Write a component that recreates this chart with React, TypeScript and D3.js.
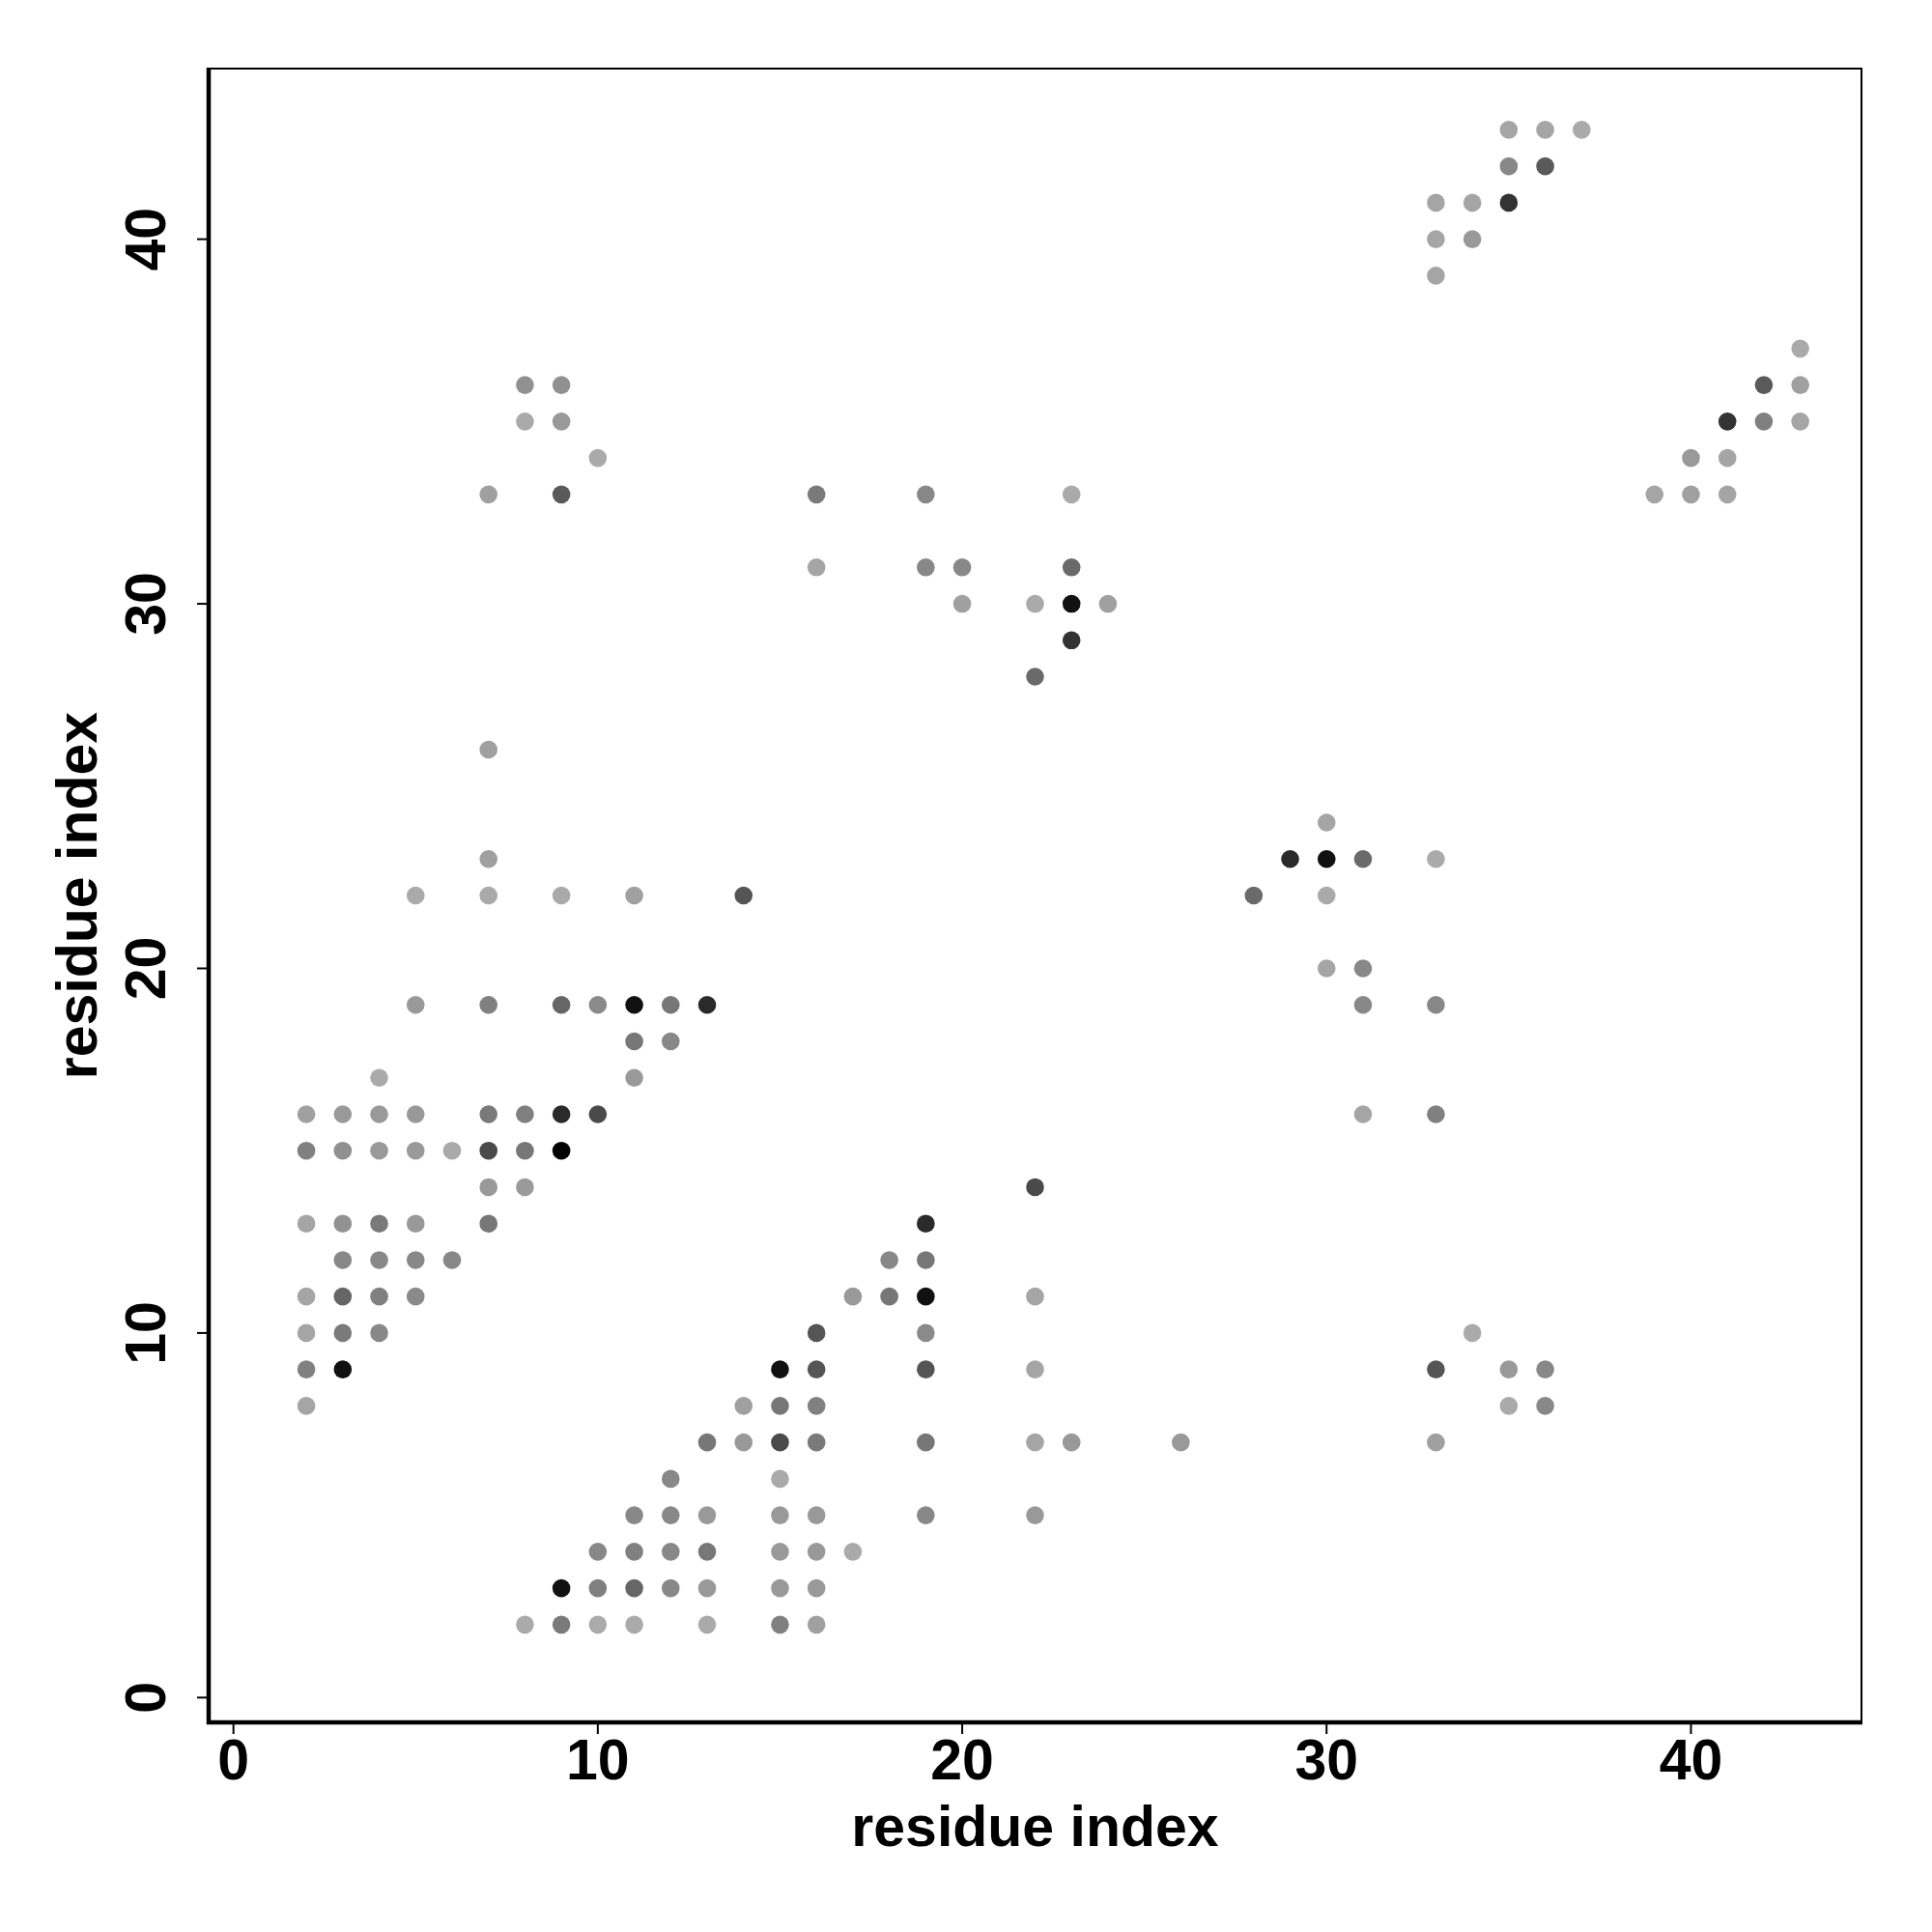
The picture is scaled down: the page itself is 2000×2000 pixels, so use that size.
import React from "react";
import * as d3 from "d3";

// contact map: residue i (x), residue j (y), grey shade (0 = black, 255 = white)
const resX = [
  35, 36, 37,
  35, 36,
  33, 34, 35,
  33, 34,
  33,
  43,
  8, 9, 42, 43,
  8, 9, 41, 42, 43,
  10, 40, 41,
  7, 9, 16, 19, 23, 39, 40, 41,
  16, 19, 20, 23,
  20, 22, 23, 24,
  23,
  22,
  7,
  30,
  7, 29, 30, 31, 33,
  5, 7, 9, 11, 14, 28, 30,
  30, 31,
  5, 7, 9, 10, 11, 12, 13, 31, 33,
  11, 12,
  4, 11,
  2, 3, 4, 5, 7, 8, 9, 10, 31, 33,
  2, 3, 4, 5, 6, 7, 8, 9,
  7, 8, 22,
  2, 3, 4, 5, 7, 19,
  3, 4, 5, 6, 18, 19,
  2, 3, 4, 5, 17, 18, 19, 22,
  2, 3, 4, 16, 19, 34,
  2, 3, 15, 16, 19, 22, 33, 35, 36,
  2, 14, 15, 16, 35, 36,
  13, 14, 15, 16, 19, 22, 23, 26, 33,
  12, 15,
  11, 12, 13, 15, 16, 19, 22,
  10, 11, 12, 13, 15, 16, 17,
  9, 10, 11, 12, 13, 15, 16,
  8, 9, 10, 11, 13, 15, 16,
];

const resY = [
  43, 43, 43,
  42, 42,
  41, 41, 41,
  40, 40,
  39,
  37,
  36, 36, 36, 36,
  35, 35, 35, 35, 35,
  34, 34, 34,
  33, 33, 33, 33, 33, 33, 33, 33,
  31, 31, 31, 31,
  30, 30, 30, 30,
  29,
  28,
  26,
  24,
  23, 23, 23, 23, 23,
  22, 22, 22, 22, 22, 22, 22,
  20, 20,
  19, 19, 19, 19, 19, 19, 19, 19, 19,
  18, 18,
  17, 17,
  16, 16, 16, 16, 16, 16, 16, 16, 16, 16,
  15, 15, 15, 15, 15, 15, 15, 15,
  14, 14, 14,
  13, 13, 13, 13, 13, 13,
  12, 12, 12, 12, 12, 12,
  11, 11, 11, 11, 11, 11, 11, 11,
  10, 10, 10, 10, 10, 10,
  9, 9, 9, 9, 9, 9, 9, 9, 9,
  8, 8, 8, 8, 8, 8,
  7, 7, 7, 7, 7, 7, 7, 7, 7,
  6, 6,
  5, 5, 5, 5, 5, 5, 5,
  4, 4, 4, 4, 4, 4, 4,
  3, 3, 3, 3, 3, 3, 3,
  2, 2, 2, 2, 2, 2, 2,
];

const shade = [
  0xa5, 0xa5, 0xaa,
  0x88, 0x5a,
  0xa5, 0xa5, 0x33,
  0xa5, 0x99,
  0xa5,
  0xaa,
  0x90, 0x90, 0x5a, 0xa0,
  0xaa, 0x99, 0x33, 0x80, 0xa5,
  0xaa, 0x99, 0xa5,
  0xa0, 0x5a, 0x7a, 0x88, 0xaa, 0xa5, 0xa0, 0xa5,
  0xa5, 0x88, 0x88, 0x6a,
  0xa0, 0xaa, 0x11, 0xa0,
  0x33,
  0x6a,
  0xa0,
  0xa5,
  0xa0, 0x2a, 0x11, 0x6a, 0xaa,
  0xaa, 0xaa, 0xaa, 0xa0, 0x55, 0x6a, 0xaa,
  0xa5, 0x88,
  0x99, 0x80, 0x66, 0x8a, 0x11, 0x77, 0x2a, 0x88, 0x88,
  0x77, 0x88,
  0xaa, 0x99,
  0xa0, 0x99, 0x99, 0x99, 0x7a, 0x80, 0x2a, 0x4a, 0xa5, 0x80,
  0x80, 0x90, 0x99, 0x9a, 0xaa, 0x4a, 0x77, 0x00,
  0x99, 0x9a, 0x4a,
  0xa5, 0x92, 0x7a, 0x99, 0x77, 0x2a,
  0x88, 0x88, 0x88, 0x88, 0x88, 0x77,
  0xa5, 0x66, 0x80, 0x8a, 0x99, 0x77, 0x11, 0xa5,
  0xa5, 0x7a, 0x88, 0x55, 0x8a, 0xaa,
  0x80, 0x11, 0x11, 0x55, 0x55, 0xa5, 0x55, 0x99, 0x88,
  0xa5, 0xa0, 0x77, 0x80, 0xaa, 0x88,
  0x77, 0x99, 0x4a, 0x7a, 0x77, 0xa5, 0x99, 0x99, 0xa0,
  0x88, 0xaa,
  0x88, 0x88, 0x99, 0x99, 0x99, 0x88, 0x99,
  0x88, 0x80, 0x88, 0x77, 0x99, 0x99, 0xaa,
  0x11, 0x80, 0x66, 0x88, 0x99, 0x99, 0x99,
  0xaa, 0x7a, 0xaa, 0xaa, 0xaa, 0x80, 0xa0,
];

const axisTicks = [0, 10, 20, 30, 40];
const axisTitle = "residue index";
const dataRange: [number, number] = [1, 43];

const W = 2000;
const H = 2000;
const left = 216;
const right = 1927;
const top = 71;
const bottom = 1783;

export default function App() {
  const pad = (dataRange[1] - dataRange[0]) * 0.04;
  const dom: [number, number] = [dataRange[0] - pad, dataRange[1] + pad];
  const x = d3.scaleLinear().domain(dom).range([left, right]);
  const y = d3.scaleLinear().domain(dom).range([bottom, top]);
  const font = "'Liberation Sans', Arial, Helvetica, sans-serif";
  const grey = (v: number) => d3.rgb(v, v, v).formatHex();
  const tickLen = 12;

  return (
    <svg
      width={W}
      height={H}
      style={{ position: "absolute", left: 0, top: 0, background: "#fff" }}
    >
      <rect x={0} y={0} width={W} height={H} fill="#fff" />
      {resX.map((d, i) => (
        <circle
          key={i}
          cx={x(d)}
          cy={y(resY[i])}
          r={9.3}
          fill={grey(shade[i])}
        />
      ))}
      <rect
        x={left}
        y={top}
        width={right - left}
        height={bottom - top}
        fill="none"
        stroke="#000"
        strokeWidth={2}
      />
      <line x1={left} x2={left} y1={top - 1} y2={bottom + 2} stroke="#000" strokeWidth={4.5} />
      <line x1={left - 2} x2={right + 1} y1={bottom} y2={bottom} stroke="#000" strokeWidth={4.5} />
      {axisTicks.map((t) => (
        <g key={"x" + t}>
          <line x1={x(t)} x2={x(t)} y1={bottom} y2={bottom + tickLen} stroke="#000" strokeWidth={2} />
          <text
            x={x(t)}
            y={1842}
            textAnchor="middle"
            fontFamily={font}
            fontWeight="bold"
            fontSize={59}
          >
            {t}
          </text>
        </g>
      ))}
      {axisTicks.map((t) => (
        <g key={"y" + t}>
          <line x1={left} x2={left - tickLen} y1={y(t)} y2={y(t)} stroke="#000" strokeWidth={2} />
          <text
            transform={`translate(171,${y(t)}) rotate(-90)`}
            textAnchor="middle"
            fontFamily={font}
            fontWeight="bold"
            fontSize={59}
          >
            {t}
          </text>
        </g>
      ))}
      <text
        x={(left + right) / 2}
        y={1911}
        textAnchor="middle"
        fontFamily={font}
        fontWeight="bold"
        fontSize={59}
      >
        {axisTitle}
      </text>
      <text
        transform={`translate(100,${(top + bottom) / 2}) rotate(-90)`}
        textAnchor="middle"
        fontFamily={font}
        fontWeight="bold"
        fontSize={59}
      >
        {axisTitle}
      </text>
    </svg>
  );
}
